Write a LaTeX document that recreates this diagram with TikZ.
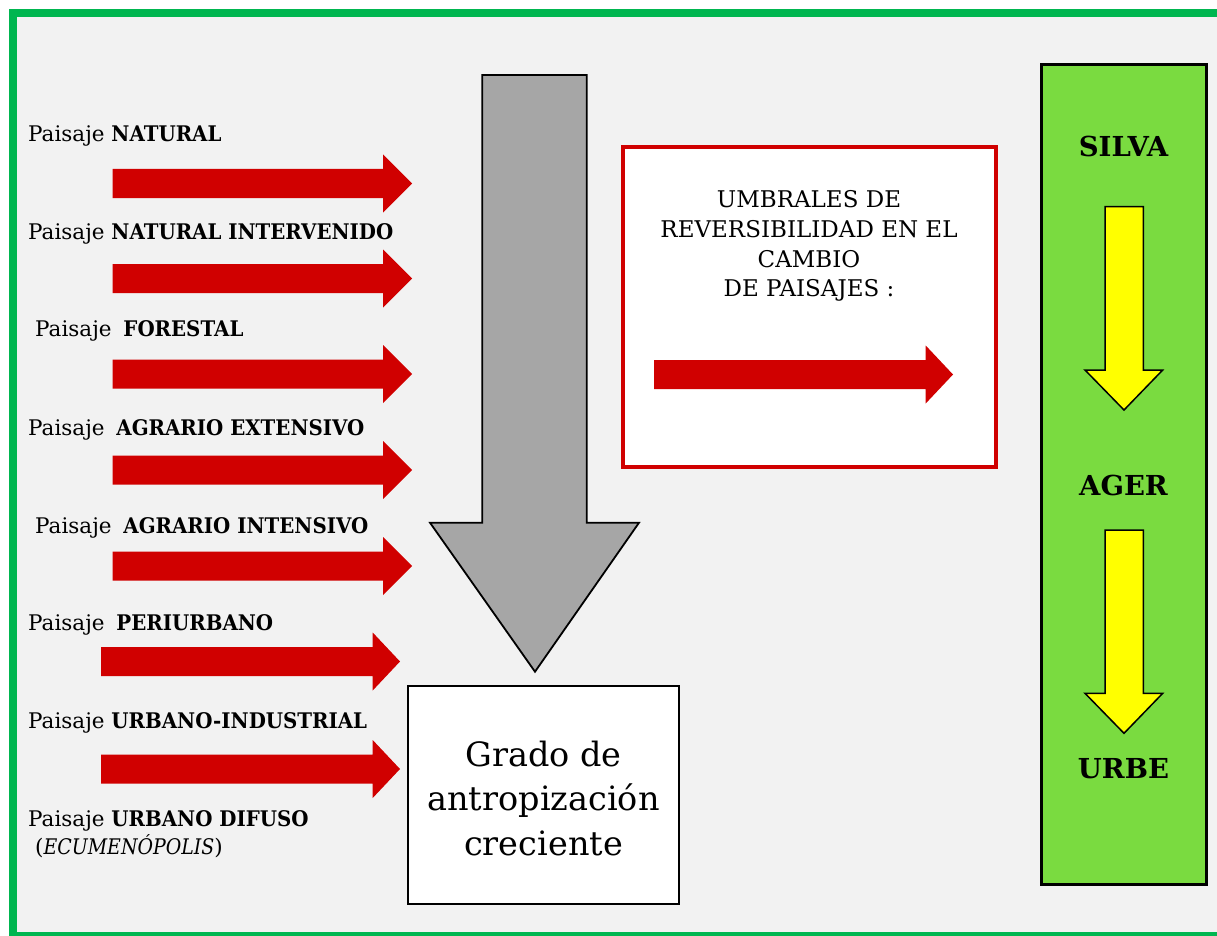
\documentclass[tikz,border=0pt]{standalone}
\usepackage{fontspec}
\setmainfont{DejaVu Serif}
\newfontfamily\narrowserif{DejaVu Serif}[FakeStretch=0.92]
\newfontfamily\narrowital{DejaVu Serif}[FakeStretch=0.88]
\definecolor{framegreen}{RGB}{0,182,80}
\definecolor{bggray}{RGB}{242,242,242}
\definecolor{arrowred}{RGB}{208,0,0}
\definecolor{boxgreen}{RGB}{122,219,64}
\definecolor{arrowgray}{RGB}{166,166,166}
\definecolor{arrowyellow}{RGB}{255,255,0}
\newcommand\kw[1]{{\narrowserif\bfseries #1}}
\tikzset{
  lbl/.style={anchor=base west, inner sep=0pt, font=\fontsize{21.5}{24}\selectfont},
  redblock/.style={fill=arrowred, draw=none},
  yellowblock/.style={fill=arrowyellow, draw=black, line width=1.5pt, line join=miter},
  side/.style={anchor=base, inner sep=0pt, font=\fontsize{27.5}{30}\selectfont\bfseries},
  grado/.style={inner sep=0pt, anchor=base, font=\fontsize{33.5}{44.5}\selectfont},
  umbral/.style={inner sep=0pt, anchor=base, font=\fontsize{23}{30}\selectfont},
}
% right-pointing block arrow: start x, head base x, tip x, centre y
\newcommand\rblock[4]{%
  \fill[redblock] (#1,#4-14.5) -- (#2,#4-14.5) -- (#2,#4-29) -- (#3,#4) -- (#2,#4+29) -- (#2,#4+14.5) -- (#1,#4+14.5) -- cycle;}
\begin{document}
\begin{tikzpicture}[x=1pt,y=-1pt]
\useasboundingbox (0,0) rectangle (1217,936);
\begin{scope}
\clip (0,0) rectangle (1217,936);
\fill[white] (0,0) rectangle (1217,936);
\draw[framegreen, line width=8pt, fill=bggray] (13,13) rectangle (1226,936);
\end{scope}

% left labels
\node[lbl] (l1) at (28,141.7) {Paisaje \kw{NATURAL}};
\node[lbl] (l2) at (28,239) {Paisaje \kw{NATURAL INTERVENIDO}};
\node[lbl] (l3) at (35,336.7) {Paisaje\hspace{0.55em}\kw{FORESTAL}};
\node[lbl] (l4) at (28,435) {Paisaje\hspace{0.55em}\kw{AGRARIO EXTENSIVO}};
\node[lbl] (l5) at (35,533) {Paisaje\hspace{0.55em}\kw{AGRARIO INTENSIVO}};
\node[lbl] (l6) at (28,630.7) {Paisaje\hspace{0.55em}\kw{PERIURBANO}};
\node[lbl] (l7) at (28,728) {Paisaje \kw{URBANO-INDUSTRIAL}};
\node[lbl] (l8) at (28,826.7) {Paisaje \kw{URBANO DIFUSO}};
\node[lbl] (l9) at (35,854) {(\narrowital\itshape ECUMENÓPOLIS\normalfont)};

% red arrows
\rblock{112.7}{383}{412}{183.5}
\rblock{112.7}{383}{412}{278.5}
\rblock{112.7}{383}{412}{374}
\rblock{112.7}{383}{412}{470}
\rblock{112.7}{383}{412}{566}
\rblock{101}{372.7}{400}{661.5}
\rblock{101}{372.7}{400}{769}

% gray arrow
\draw[fill=arrowgray, draw=black, line width=1.8pt, line join=miter]
  (482.3,75) -- (586.7,75) -- (586.7,522.7) -- (639,522.7) -- (535,671.7)
  -- (430,522.7) -- (482.3,522.7) -- cycle;

% grado box
\draw[fill=white, draw=black, line width=2.5pt] (408.2,686.2) rectangle (678.8,903.8);
\node[grado] (g1) at (543.5,766) {Grado de};
\node[grado] (g2) at (543.5,810.7) {antropización};
\node[grado] (g3) at (543.5,855) {creciente};

% umbrales box
\draw[fill=white, draw=arrowred, line width=4pt] (622.7,147) rectangle (995.7,467);
\node[umbral] (u1) at (809,207.3) {UMBRALES DE};
\node[umbral] (u2) at (809,237.3) {REVERSIBILIDAD EN EL};
\node[umbral] (u3) at (809,267.3) {CAMBIO};
\node[umbral] (u4) at (809,296.7) {DE PAISAJES :};
\rblock{654}{925.7}{953}{374.5}

% green column
\draw[fill=boxgreen, draw=black, line width=3pt] (1041.5,64.2) rectangle (1206.2,884.5);
\node[side] (silva) at (1123.5,156.7) {SILVA};
\node[side] (ager) at (1123.5,495) {AGER};
\node[side] (urbe) at (1123.5,778.3) {URBE};
\draw[yellowblock] (1105,206.7) -- (1143.3,206.7) -- (1143.3,370) -- (1162.7,370) -- (1124,410)
  -- (1085,370) -- (1105,370) -- cycle;
\draw[yellowblock] (1105,530) -- (1143.3,530) -- (1143.3,693.3) -- (1162.7,693.3) -- (1124,733.3)
  -- (1085,693.3) -- (1105,693.3) -- cycle;
\end{tikzpicture}
\end{document}
